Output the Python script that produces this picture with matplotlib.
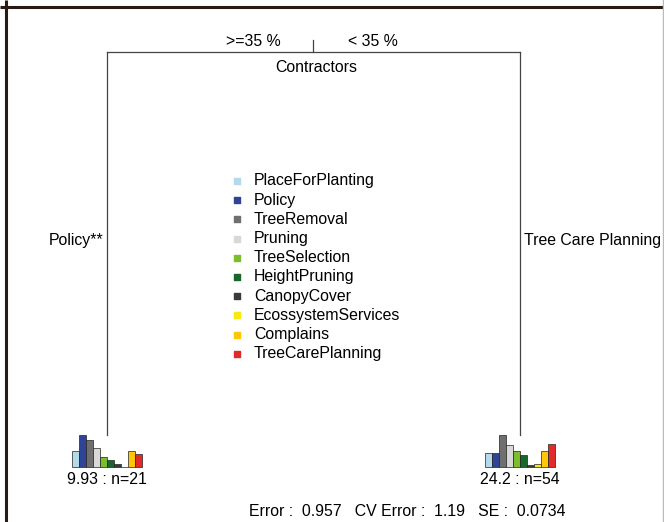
import numpy as np
import matplotlib.pyplot as plt

plt.rcParams['font.family'] = ['Liberation Sans', 'DejaVu Sans']

# response variables (legend order)
species = ['PlaceForPlanting', 'Policy', 'TreeRemoval', 'Pruning', 'TreeSelection',
           'HeightPruning', 'CanopyCover', 'EcossystemServices', 'Complains',
           'TreeCarePlanning']
colors = ['#b3d9ea', '#2e4597', '#6f6f6f', '#d8d8d8', '#7bbd2c',
          '#19662a', '#3a3a3a', '#f8ea0c', '#ffc60a', '#e32a2a']

# leaf means per response
left_means = [16, 32, 27, 19, 10, 7, 3, 0, 16, 13]
right_means = [13.6, 13.6, 32, 22, 16, 11.7, 2.4, 3.3, 16, 22.7]
leaf_labels = ['9.93 : n=21', '24.2 : n=54']
split_var = 'Contractors'
split_labels = ['>=35 %', '< 35 %']
leaf_names = ['Policy**', 'Tree Care Planning']
err_text = 'Error :  0.957   CV Error :  1.19   SE :  0.0734'

fig = plt.figure(figsize=(6.64, 5.22), dpi=100)
ax = fig.add_axes([0, 0, 1, 1])
ax.set_xlim(0, 664)
ax.set_ylim(522, 0)
ax.axis('off')

# panel border
ax.plot([0, 664], [7, 7], color='#2b1a14', lw=2.2, solid_capstyle='butt')
ax.plot([6, 6], [0, 522], color='#2b1a14', lw=2.2, solid_capstyle='butt')
ax.plot([663, 663], [0, 522], color='#bbbbbb', lw=1)

lc = '#444444'
root_x, split_y = 313, 52
xl, xr = 106.5, 519.5
leaf_top = 435
ax.plot([root_x, root_x], [40, split_y], color=lc, lw=0.9)
ax.plot([xl, xr], [split_y, split_y], color=lc, lw=0.9)
ax.plot([xl, xl], [split_y, leaf_top], color=lc, lw=0.9)
ax.plot([xr, xr], [split_y, leaf_top], color=lc, lw=0.9)

fs = 11.4
ax.text(253, 42, split_labels[0], ha='center', va='center', fontsize=fs)
ax.text(373, 42, split_labels[1], ha='center', va='center', fontsize=fs)
ax.text(316, 67, split_var, ha='center', va='center', fontsize=fs)
ax.text(103, 241, leaf_names[0], ha='right', va='center', fontsize=fs)
ax.text(524, 241, leaf_names[1], ha='left', va='center', fontsize=fs)

# leaf barplots
base = 467
scale = 32 / max(max(left_means), max(right_means))
bw = 7
for cx, means, lab in [(xl, left_means, leaf_labels[0]),
                       (xr, right_means, leaf_labels[1])]:
    n = len(means)
    xs = cx - n * bw / 2 + bw / 2 + np.arange(n) * bw
    hs = -np.array(means) * scale
    ax.bar(xs, hs, width=bw, bottom=base, color=colors,
           edgecolor='#222222', linewidth=0.5)
    ax.text(cx, 480, lab, ha='center', va='center', fontsize=fs)

# legend
for i, (name, c) in enumerate(zip(species, colors)):
    y = 181 + i * 19.2
    ax.scatter([237], [y], marker='s', s=22, color=c)
    ax.text(254, y, name, ha='left', va='center', fontsize=fs)

ax.text(407, 511, err_text, ha='center', va='center', fontsize=fs)

fig.savefig('out.png', dpi=100)
